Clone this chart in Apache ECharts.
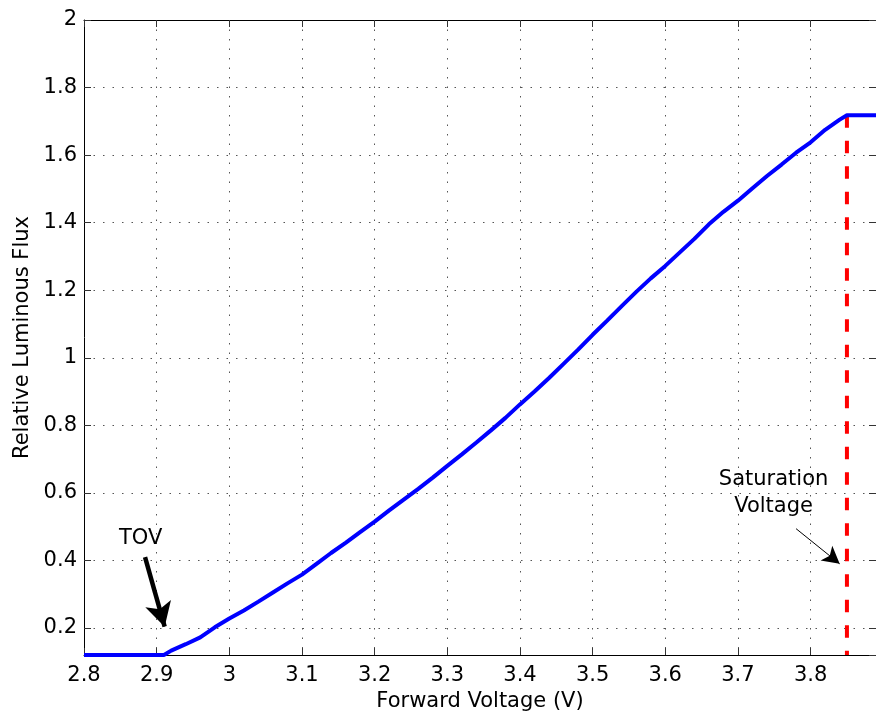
<!DOCTYPE html>
<html>
<head>
<meta charset="utf-8">
<script src="https://cdn.jsdelivr.net/npm/echarts@6/dist/echarts.min.js"></script>
<style>
  html, body { margin: 0; padding: 0; background: #fff; }
  #chart { width: 876px; height: 713px; }
</style>
</head>
<body>
<div id="chart"></div>
<script>
// ---- data ----
const voltage = [2.80, 2.82, 2.84, 2.86, 2.88, 2.90, 2.91, 2.92, 2.94, 2.96, 2.98,
  3.00, 3.02, 3.04, 3.06, 3.08, 3.10, 3.12, 3.14, 3.16, 3.18,
  3.20, 3.22, 3.24, 3.26, 3.28, 3.30, 3.32, 3.34, 3.36, 3.38,
  3.40, 3.42, 3.44, 3.46, 3.48, 3.50, 3.52, 3.54, 3.56, 3.58,
  3.60, 3.62, 3.64, 3.66, 3.68, 3.70, 3.72, 3.74, 3.76, 3.78,
  3.80, 3.82, 3.84, 3.85, 3.89];
const flux = [0.12, 0.12, 0.12, 0.12, 0.12, 0.12, 0.12, 0.133, 0.152, 0.172, 0.202,
  0.228, 0.252, 0.278, 0.305, 0.332, 0.358, 0.390, 0.422, 0.452, 0.484,
  0.515, 0.548, 0.580, 0.612, 0.645, 0.680, 0.714, 0.749, 0.785, 0.822,
  0.862, 0.900, 0.940, 0.982, 1.024, 1.068, 1.110, 1.153, 1.195, 1.235,
  1.272, 1.312, 1.352, 1.395, 1.432, 1.465, 1.502, 1.538, 1.572, 1.607,
  1.638, 1.675, 1.705, 1.718, 1.718];

const saturationVoltage = 3.85;
const saturationFlux = 1.718;
const xMin = 2.8, xMax = 3.89;
const yMin = 0.12, yMax = 2;

// annotations: [x, y] in data units
const tovText = [2.878, 0.464];
const tovArrow = [[2.884, 0.41], [2.911, 0.204]];
const satText = [3.749, 0.60];
const satArrow = [[3.780, 0.494], [3.840, 0.390]];

const FONT = 'DejaVu Sans';
const FS = 21;
const gridColor = '#555';

const chart = echarts.init(document.getElementById('chart'), null, { renderer: 'canvas' });

const mainLine = voltage.map((v, i) => [v, flux[i]]);

function fmt(v) { return String(Math.round(v * 100) / 100); }

const baseX = {
  type: 'value', min: xMin, max: xMax, interval: 0.1,
  axisLine: { show: true, onZero: false, lineStyle: { color: '#000', width: 1 } },
  axisTick: { show: true, inside: true, length: 7, lineStyle: { color: '#333' } },
};
const baseY = {
  type: 'value', min: yMin, max: yMax, splitNumber: 9,
  axisLine: { show: true, onZero: false, lineStyle: { color: '#000', width: 1 } },
  axisTick: { show: true, inside: true, length: 7, lineStyle: { color: '#333' } },
};

const option = {
  animation: false,
  backgroundColor: '#fff',
  grid: { left: 84, top: 20, right: 0, bottom: 58, containLabel: false, outerBoundsMode: 'none' },
  xAxis: [
    Object.assign({}, baseX, {
      position: 'bottom',
      name: 'Forward Voltage (V)', nameLocation: 'middle', nameGap: 35,
      nameTextStyle: { fontFamily: FONT, fontSize: FS, color: '#000' },
      axisLabel: { fontFamily: FONT, fontSize: FS, color: '#000', margin: 10, showMaxLabel: false, formatter: fmt },
      splitLine: { show: true, lineStyle: { color: gridColor, width: 1, type: [1.5, 8] } }
    }),
    Object.assign({}, baseX, {
      position: 'top',
      axisLabel: { show: false }, splitLine: { show: false }
    })
  ],
  yAxis: [
    Object.assign({}, baseY, {
      position: 'left',
      name: 'Relative Luminous Flux', nameLocation: 'middle', nameGap: 50, nameRotate: 90,
      nameTextStyle: { fontFamily: FONT, fontSize: FS, color: '#000' },
      axisLabel: { fontFamily: FONT, fontSize: FS, color: '#000', margin: 7, showMinLabel: false, formatter: fmt },
      splitLine: { show: true, lineStyle: { color: gridColor, width: 1, type: [1.5, 8] } }
    }),
    Object.assign({}, baseY, {
      position: 'right',
      axisLabel: { show: false }, splitLine: { show: false }
    })
  ],
  series: [
    {
      name: 'saturation', type: 'line', xAxisIndex: 0, yAxisIndex: 0,
      data: [[saturationVoltage, saturationFlux], [saturationVoltage, yMin]],
      symbol: 'none', z: 3,
      lineStyle: { color: '#ff0000', width: 4, type: [12.5, 13] }
    },
    {
      name: 'flux', type: 'line', xAxisIndex: 0, yAxisIndex: 0,
      data: mainLine, symbol: 'none', z: 4,
      lineStyle: { color: '#0000ff', width: 4 }
    },
    {
      name: 'labels', type: 'scatter', xAxisIndex: 0, yAxisIndex: 0,
      symbolSize: 0, z: 6,
      itemStyle: { opacity: 1 },
      data: [
        { value: tovText, name: 'TOV' },
        { value: satText, name: 'Saturation\nVoltage' }
      ],
      label: {
        show: true, position: 'inside', formatter: p => p.name, opacity: 1,
        fontFamily: FONT, fontSize: FS, color: '#000', lineHeight: 27, align: 'center',
        textBorderWidth: 0
      },
      emphasis: { disabled: true },
      silent: true,
      markLine: {
        silent: true, animation: false,
        label: { show: false },
        data: [[{ coord: tovArrow[0] }, { coord: tovArrow[1] }]],
        symbol: ['none', 'arrow'], symbolSize: [20, 24],
        lineStyle: { color: '#000', width: 4.5, type: 'solid', opacity: 1 }
      }
    },
    {
      type: 'line', name: 'satArrowHost', xAxisIndex: 0, yAxisIndex: 0,
      data: [], z: 6,
      markLine: {
        silent: true, animation: false,
        label: { show: false },
        data: [[{ coord: satArrow[0] }, { coord: satArrow[1] }]],
        symbol: ['none', 'arrow'], symbolSize: [14, 17],
        lineStyle: { color: '#000', width: 1, type: 'solid', opacity: 1 }
      }
    }
  ]
};

chart.setOption(option);
</script>
</body>
</html>
